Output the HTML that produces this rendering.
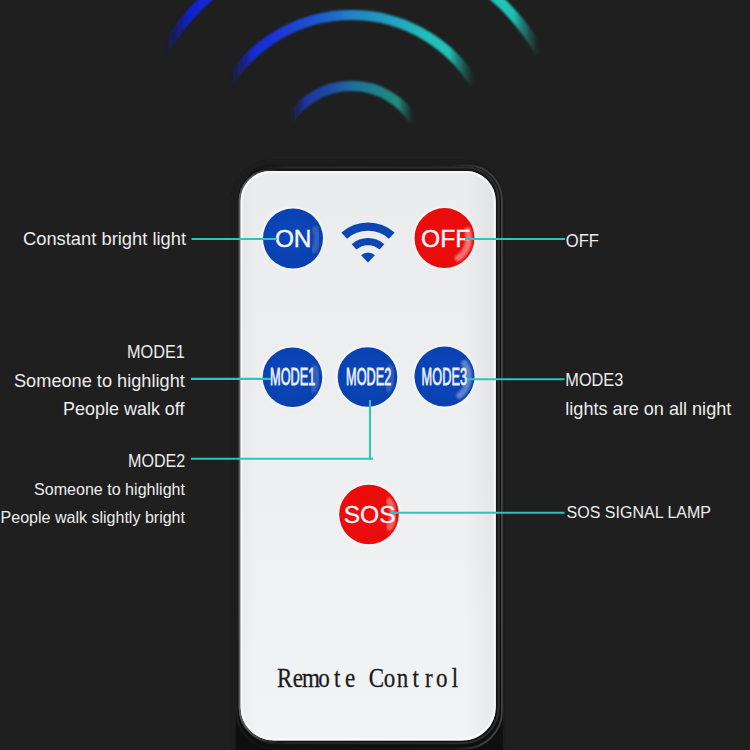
<!DOCTYPE html>
<html lang="en">
<head>
<meta charset="utf-8">
<title>Remote Control</title>
<style>
  html, body { margin: 0; padding: 0; }
  body { width: 750px; height: 750px; overflow: hidden; background: #1f1f1f; position: relative;
         font-family: "Liberation Sans", sans-serif; }
  svg { position: absolute; left: 0; top: 0; display: block; }
  .lbl { font-family: "Liberation Sans", sans-serif; fill: #ececec; }
  .btn { font-family: "Liberation Sans", sans-serif; fill: #f4f6fb; }
  .rc  { font-family: "Liberation Serif", serif; fill: #1b1b1b; }
</style>
</head>
<body>
<svg width="750" height="750" viewBox="0 0 750 750">
  <defs>
    <filter id="soft2" x="-50%" y="-50%" width="200%" height="200%"><feGaussianBlur stdDeviation="1.3"/></filter>
    <filter id="soft" x="-10%" y="-20%" width="120%" height="140%"><feGaussianBlur stdDeviation="1"/></filter>
    <linearGradient id="gOuter" gradientUnits="userSpaceOnUse" x1="162.6" y1="0" x2="540.4" y2="0">
      <stop offset="0.000" stop-color="#0f1cb8" stop-opacity="0"/>
      <stop offset="0.011" stop-color="#0f1cb8" stop-opacity="0.08"/>
      <stop offset="0.026" stop-color="#0f1cb8" stop-opacity="0.32"/>
      <stop offset="0.048" stop-color="#0f1cb8" stop-opacity="0.68"/>
      <stop offset="0.071" stop-color="#1022d0" stop-opacity="1"/>
      <stop offset="0.072" stop-color="#1022d0" stop-opacity="1"/>
      <stop offset="0.131" stop-color="#1428d8" stop-opacity="1"/>
      <stop offset="0.364" stop-color="#1c50d4" stop-opacity="1"/>
      <stop offset="0.501" stop-color="#2080c8" stop-opacity="1"/>
      <stop offset="0.681" stop-color="#20a8c0" stop-opacity="1"/>
      <stop offset="0.867" stop-color="#20c4b8" stop-opacity="1"/>
      <stop offset="0.928" stop-color="#20c0b4" stop-opacity="1"/>
      <stop offset="0.929" stop-color="#20c0b4" stop-opacity="1"/>
      <stop offset="0.952" stop-color="#1ea8a0" stop-opacity="0.68"/>
      <stop offset="0.974" stop-color="#1ea8a0" stop-opacity="0.32"/>
      <stop offset="0.989" stop-color="#1ea8a0" stop-opacity="0.08"/>
      <stop offset="1.000" stop-color="#1ea8a0" stop-opacity="0"/>
    </linearGradient>
    <linearGradient id="gMid" gradientUnits="userSpaceOnUse" x1="227.9" y1="0" x2="475.1" y2="0">
      <stop offset="0.000" stop-color="#1224c0" stop-opacity="0"/>
      <stop offset="0.015" stop-color="#1224c0" stop-opacity="0.08"/>
      <stop offset="0.038" stop-color="#1224c0" stop-opacity="0.32"/>
      <stop offset="0.069" stop-color="#1224c0" stop-opacity="0.68"/>
      <stop offset="0.104" stop-color="#172cd8" stop-opacity="1"/>
      <stop offset="0.191" stop-color="#1a34d8" stop-opacity="1"/>
      <stop offset="0.373" stop-color="#1f5ad0" stop-opacity="1"/>
      <stop offset="0.494" stop-color="#2080c8" stop-opacity="1"/>
      <stop offset="0.656" stop-color="#20a0c0" stop-opacity="1"/>
      <stop offset="0.817" stop-color="#20c0b8" stop-opacity="1"/>
      <stop offset="0.896" stop-color="#20c0b4" stop-opacity="1"/>
      <stop offset="0.931" stop-color="#1eaaa0" stop-opacity="0.68"/>
      <stop offset="0.962" stop-color="#1eaaa0" stop-opacity="0.32"/>
      <stop offset="0.985" stop-color="#1eaaa0" stop-opacity="0.08"/>
      <stop offset="1.000" stop-color="#1eaaa0" stop-opacity="0"/>
    </linearGradient>
    <linearGradient id="gIn" gradientUnits="userSpaceOnUse" x1="288.7" y1="0" x2="414.3" y2="0">
      <stop offset="0.000" stop-color="#182c98" stop-opacity="0"/>
      <stop offset="0.019" stop-color="#182c98" stop-opacity="0.08"/>
      <stop offset="0.048" stop-color="#182c98" stop-opacity="0.32"/>
      <stop offset="0.086" stop-color="#182c98" stop-opacity="0.68"/>
      <stop offset="0.129" stop-color="#1c38ac" stop-opacity="1"/>
      <stop offset="0.130" stop-color="#1c38ac" stop-opacity="1"/>
      <stop offset="0.329" stop-color="#2050b8" stop-opacity="1"/>
      <stop offset="0.504" stop-color="#2078b0" stop-opacity="1"/>
      <stop offset="0.727" stop-color="#209098" stop-opacity="1"/>
      <stop offset="0.870" stop-color="#209a8a" stop-opacity="1"/>
      <stop offset="0.871" stop-color="#209a8a" stop-opacity="1"/>
      <stop offset="0.914" stop-color="#1e8c80" stop-opacity="0.68"/>
      <stop offset="0.952" stop-color="#1e8c80" stop-opacity="0.32"/>
      <stop offset="0.981" stop-color="#1e8c80" stop-opacity="0.08"/>
      <stop offset="1.000" stop-color="#1e8c80" stop-opacity="0"/>
    </linearGradient>
    <linearGradient id="bodyG" x1="0" y1="0" x2="0" y2="1">
      <stop offset="0" stop-color="#151515"/>
      <stop offset="0.7" stop-color="#131313"/>
      <stop offset="1" stop-color="#0d0d0d"/>
    </linearGradient>
    <linearGradient id="rimR" gradientUnits="userSpaceOnUse" x1="232" y1="0" x2="503" y2="0">
      <stop offset="0" stop-color="#2a2a2a" stop-opacity="0.6"/>
      <stop offset="0.1" stop-color="#2a2a2a" stop-opacity="0.15"/>
      <stop offset="0.8" stop-color="#303030" stop-opacity="0.3"/>
      <stop offset="0.93" stop-color="#3e3e3e" stop-opacity="1"/>
      <stop offset="1" stop-color="#404040" stop-opacity="1"/>
    </linearGradient>
    <linearGradient id="rimM" gradientUnits="userSpaceOnUse" x1="237" y1="0" x2="499" y2="0">
      <stop offset="0" stop-color="#2e2e2e" stop-opacity="0"/>
      <stop offset="0.08" stop-color="#2e2e2e" stop-opacity="0"/>
      <stop offset="0.2" stop-color="#2e2e2e" stop-opacity="0.8"/>
      <stop offset="1" stop-color="#2e2e2e" stop-opacity="1"/>
    </linearGradient>
    <linearGradient id="rimL" gradientUnits="userSpaceOnUse" x1="238" y1="0" x2="498" y2="0">
      <stop offset="0" stop-color="#5c5c5c" stop-opacity="1"/>
      <stop offset="0.05" stop-color="#5c5c5c" stop-opacity="0.9"/>
      <stop offset="0.16" stop-color="#5c5c5c" stop-opacity="0"/>
      <stop offset="1" stop-color="#5c5c5c" stop-opacity="0"/>
    </linearGradient>
    <linearGradient id="face" x1="0" y1="0" x2="0" y2="1">
      <stop offset="0" stop-color="#ebecee"/>
      <stop offset="0.45" stop-color="#edeef0"/>
      <stop offset="1" stop-color="#f2f3f5"/>
    </linearGradient>
    <linearGradient id="faceSide" gradientUnits="userSpaceOnUse" x1="240" y1="0" x2="496" y2="0">
      <stop offset="0" stop-color="#000" stop-opacity="0.03"/>
      <stop offset="0.06" stop-color="#000" stop-opacity="0"/>
      <stop offset="0.88" stop-color="#000" stop-opacity="0"/>
      <stop offset="0.985" stop-color="#000" stop-opacity="0.04"/>
      <stop offset="1" stop-color="#000" stop-opacity="0.02"/>
    </linearGradient>
    <radialGradient id="blueBtn" cx="0.45" cy="0.45" r="0.6">
      <stop offset="0" stop-color="#0b47bb"/>
      <stop offset="1" stop-color="#0a40ae"/>
    </radialGradient>
    <radialGradient id="redBtn" cx="0.45" cy="0.45" r="0.6">
      <stop offset="0" stop-color="#ef0b0b"/>
      <stop offset="1" stop-color="#e80c0c"/>
    </radialGradient>
  </defs>

  <!-- signal arcs -->
  <g fill="none" stroke-width="10.2" stroke-linecap="butt" filter="url(#soft)">
    <path d="M 162.6 53.1 A 217 217 0 0 1 540.4 53.1" stroke="url(#gOuter)"/>
    <path d="M 227.9 84.2 A 145 145 0 0 1 475.1 84.2" stroke="url(#gMid)"/>
    <path d="M 288.7 120.8 A 74 74 0 0 1 414.3 120.8" stroke="url(#gIn)" opacity="0.88"/>
  </g>

  <!-- remote body -->
  <path d="M 271 161 H 464 A 39 39 0 0 1 503 200 V 760 A 40 40 0 0 1 463 800 H 272 A 40 40 0 0 1 232 760 V 200 A 39 39 0 0 1 271 161 Z" fill="#1b1b1b" filter="url(#soft)"/>
  <path d="M 270.8 164.5 H 468 A 35 35 0 0 1 503 199.5 V 762 A 38 38 0 0 1 465 800 H 273.8 A 38 38 0 0 1 235.8 762 V 199.5 A 35 35 0 0 1 270.8 164.5 Z" fill="url(#bodyG)"/>
  <path d="M 271.1 165.5 H 467.5 A 34.5 34.5 0 0 1 502 200.0 V 711.0 A 37.5 37.5 0 0 1 464.5 748.5 H 274.1 A 37.5 37.5 0 0 1 236.6 711.0 V 200.0 A 34.5 34.5 0 0 1 271.1 165.5 Z" fill="none" stroke="url(#rimR)" stroke-width="1.9"/>
  <path d="M 270.2 167.4 H 465.6 A 33 33 0 0 1 498.6 200.4 V 707.2 A 36 36 0 0 1 462.6 743.2 H 273.2 A 36 36 0 0 1 237.2 707.2 V 200.4 A 33 33 0 0 1 270.2 167.4 Z" fill="none" stroke="url(#rimM)" stroke-width="2"/>
  <path d="M 270.5 170.4 H 466 A 31 31 0 0 1 497 201.4 V 707.5 A 34.5 34.5 0 0 1 462.5 742 H 274.0 A 34.5 34.5 0 0 1 239.5 707.5 V 201.4 A 31 31 0 0 1 270.5 170.4 Z" fill="none" stroke="url(#rimL)" stroke-width="2"/>
  <path d="M 270.5 171 H 465.8 A 30 30 0 0 1 495.8 201 V 707.1 A 33.5 33.5 0 0 1 462.3 740.6 H 274.0 A 33.5 33.5 0 0 1 240.5 707.1 V 201 A 30 30 0 0 1 270.5 171 Z" fill="url(#face)"/>
  <path d="M 270.5 171 H 465.8 A 30 30 0 0 1 495.8 201 V 707.1 A 33.5 33.5 0 0 1 462.3 740.6 H 274.0 A 33.5 33.5 0 0 1 240.5 707.1 V 201 A 30 30 0 0 1 270.5 171 Z" fill="url(#faceSide)"/>
  <path d="M 270.7 172.2 H 465.6 A 29 29 0 0 1 494.6 201.2 V 706.9 A 32.5 32.5 0 0 1 462.1 739.4 H 274.2 A 32.5 32.5 0 0 1 241.7 706.9 V 201.2 A 29 29 0 0 1 270.7 172.2 Z" fill="none" stroke="#f7f8f9" stroke-width="2.2" opacity="0.9"/>

  <!-- buttons -->
  <circle cx="293" cy="238.5" r="31.6" fill="#ffffff" opacity="0.55" filter="url(#soft)"/>
  <circle cx="444.5" cy="238.1" r="31.6" fill="#ffffff" opacity="0.55" filter="url(#soft)"/>
  <circle cx="292.5" cy="377.2" r="31.400000000000002" fill="#ffffff" opacity="0.55" filter="url(#soft)"/>
  <circle cx="367.5" cy="377" r="31.400000000000002" fill="#ffffff" opacity="0.55" filter="url(#soft)"/>
  <circle cx="444.5" cy="376.6" r="31.6" fill="#ffffff" opacity="0.55" filter="url(#soft)"/>
  <circle cx="369" cy="514.5" r="31.400000000000002" fill="#ffffff" opacity="0.55" filter="url(#soft)"/>
  <g transform="translate(293 238.5)"><circle r="30" fill="url(#blueBtn)"/><path d="M 22.44 -9.07 A 24.2 24.2 0 0 1 21.37 11.36" fill="none" stroke="#ffffff" stroke-width="6.5" stroke-linecap="round" opacity="0.16" filter="url(#soft2)"/></g>
  <g transform="translate(444.5 238.1)"><circle r="30" fill="url(#redBtn)"/><path d="M 23.02 -7.48 A 24.2 24.2 0 0 1 13.53 20.06" fill="none" stroke="#ffffff" stroke-width="6.5" stroke-linecap="round" opacity="0.42" filter="url(#soft2)"/></g>
  <g transform="translate(292.5 377.2)"><circle r="29.8" fill="url(#blueBtn)"/><path d="M 22.44 -9.07 A 24.2 24.2 0 0 1 20.96 12.10" fill="none" stroke="#ffffff" stroke-width="6.5" stroke-linecap="round" opacity="0.16" filter="url(#soft2)"/></g>
  <g transform="translate(367.5 377)"><circle r="29.8" fill="url(#blueBtn)"/><path d="M 22.44 -9.07 A 24.2 24.2 0 0 1 20.96 12.10" fill="none" stroke="#ffffff" stroke-width="6.5" stroke-linecap="round" opacity="0.14" filter="url(#soft2)"/></g>
  <g transform="translate(444.5 376.6)"><circle r="30" fill="url(#blueBtn)"/><path d="M 20.06 -13.53 A 24.2 24.2 0 0 1 14.90 19.07" fill="none" stroke="#ffffff" stroke-width="6.5" stroke-linecap="round" opacity="0.34" filter="url(#soft2)"/></g>
  <g transform="translate(369 514.5)"><circle r="29.8" fill="url(#redBtn)"/><path d="M 20.06 -13.53 A 24.2 24.2 0 0 1 20.52 12.82" fill="none" stroke="#ffffff" stroke-width="6.5" stroke-linecap="round" opacity="0.36" filter="url(#soft2)"/></g>

  <!-- wifi icon -->
  <g transform="translate(368 262.6)" fill="none" stroke="#0c46b4">
    <path d="M -23.85 -26.96 A 36 36 0 0 1 23.85 -26.96" stroke-width="8.4"/>
    <path d="M -13.92 -15.73 A 21 21 0 0 1 13.92 -15.73" stroke-width="7.2"/>
    <path d="M 0 0 L -6.96 -7.46 A 10.2 10.2 0 0 1 6.96 -7.46 Z" fill="#0c46b4" stroke="none"/>
  </g>

  <!-- button labels -->
  <text class="btn" x="293.2" y="247.2" font-size="24.4" text-anchor="middle" stroke="#f4f6fb" stroke-width="0.45">ON</text>
  <text class="btn" x="445.6" y="246.8" font-size="24.6" text-anchor="middle" stroke="#f4f6fb" stroke-width="0.45">OFF</text>
  <text class="btn" x="369.7" y="523.3" font-size="24.6" text-anchor="middle" stroke="#f4f6fb" stroke-width="0.3">SOS</text>
  <text class="btn" fill="#e4ecf9" x="270" y="385.4" font-size="24.3" stroke="#e4ecf9" stroke-width="0.85" textLength="45.4" lengthAdjust="spacingAndGlyphs">MODE1</text>
  <text class="btn" fill="#e4ecf9" x="346" y="385.4" font-size="24.3" stroke="#e4ecf9" stroke-width="0.85" textLength="45.4" lengthAdjust="spacingAndGlyphs">MODE2</text>
  <text class="btn" fill="#e4ecf9" x="421.6" y="385.2" font-size="24.3" stroke="#e4ecf9" stroke-width="0.85" textLength="45.4" lengthAdjust="spacingAndGlyphs">MODE3</text>

  <!-- callout lines -->
  <g fill="none" stroke="#2fc4bb" stroke-width="2.1">
    <path d="M 191.5 239 H 277"/>
    <path d="M 465 239 H 565"/>
    <path d="M 191 378.9 H 271"/>
    <path d="M 467 379.3 H 564.5"/>
    <path d="M 191 458.7 H 373"/>
    <path d="M 370 400 V 459.5"/>
    <path d="M 390 512.7 H 564.5"/>
  </g>

  <!-- callout labels -->
  <text class="lbl" x="23" y="245.3" font-size="18.6" textLength="163" lengthAdjust="spacingAndGlyphs">Constant bright light</text>
  <text class="lbl" x="127" y="358.3" font-size="18.6" textLength="57.8" lengthAdjust="spacingAndGlyphs">MODE1</text>
  <text class="lbl" x="14" y="386.7" font-size="18.6" textLength="170.8" lengthAdjust="spacingAndGlyphs">Someone to highlight</text>
  <text class="lbl" x="63" y="415.3" font-size="18.6" textLength="121.5" lengthAdjust="spacingAndGlyphs">People walk off</text>
  <text class="lbl" x="128" y="467.3" font-size="18.6" textLength="57.3" lengthAdjust="spacingAndGlyphs">MODE2</text>
  <text class="lbl" x="34" y="494.5" font-size="16.6" textLength="151" lengthAdjust="spacingAndGlyphs">Someone to highlight</text>
  <text class="lbl" x="0.6" y="522.8" font-size="16.6" textLength="184.4" lengthAdjust="spacingAndGlyphs">People walk slightly bright</text>

  <text class="lbl" x="565.8" y="246.7" font-size="17.8" textLength="33.2" lengthAdjust="spacingAndGlyphs">OFF</text>
  <text class="lbl" x="565.3" y="386" font-size="18.6" textLength="58" lengthAdjust="spacingAndGlyphs">MODE3</text>
  <text class="lbl" x="565.3" y="415" font-size="18.6" textLength="166" lengthAdjust="spacingAndGlyphs">lights are on all night</text>
  <text class="lbl" x="566.6" y="518.3" font-size="17.2" textLength="144.4" lengthAdjust="spacingAndGlyphs">SOS SIGNAL LAMP</text>

  <text class="rc" transform="translate(278.2 686.6) scale(0.84 1)" x="7.8 23.4 39.0 54.5 70.1 85.7 101.3 116.9 132.5 148.0 163.6 179.2 194.8 210.4" y="0" font-size="27.4" text-anchor="middle" stroke="#1b1b1b" stroke-width="0.3">Remote Control</text>
</svg>
</body>
</html>
